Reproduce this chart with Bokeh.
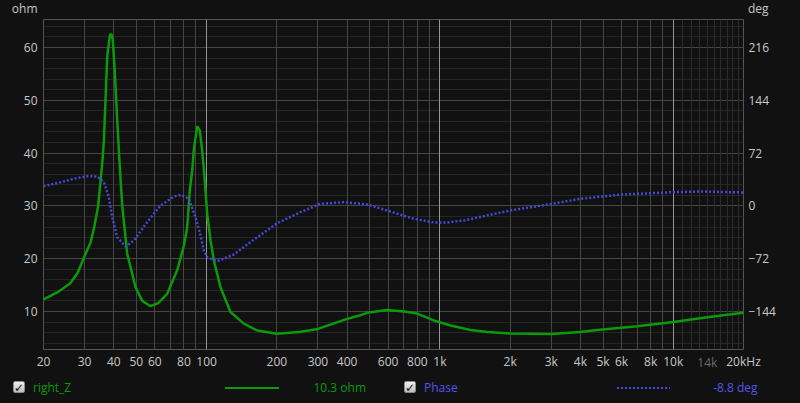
from bokeh.plotting import figure
from bokeh.layouts import column
from bokeh.models import Range1d, LinearAxis, LogAxis, FixedTicker, Grid, Div
from bokeh.embed import file_html
from bokeh.resources import INLINE

# ---------------- data ----------------
freq_z = [20, 22.9, 26, 28, 30, 31.8, 33, 34.3, 35.7, 36.3, 37.5, 38.5, 39.0, 39.6,
          40.4, 41.4, 42.3, 43.5, 45.7, 49.6, 53, 57.5, 62, 67.8, 74.8, 80, 82.6,
          84.7, 86.8, 88.1, 91.2, 93.5, 95.7, 98, 100.6, 104, 107.4, 114.7, 126.6,
          144.4, 164.8, 200, 250, 300, 400, 440, 457, 488, 594, 700, 799, 942,
          1110, 1352, 1600, 2000, 3000, 4000, 4722, 7010, 10000, 14000, 20000]
imp_ohm = [12.3, 13.6, 15.3, 17.3, 20.5, 23.0, 26.0, 30.0, 38.0, 42.4, 58.2, 62.3,
           62.6, 61.6, 55.6, 46.2, 38.6, 30.0, 20.9, 14.6, 12.0, 11.0, 11.6, 13.35,
           17.8, 22.5, 26.0, 32.9, 36.7, 40.5, 45.1, 44.3, 40.5, 35.4, 28.5, 23.4,
           19.7, 14.6, 9.9, 7.7, 6.4, 5.8, 6.1, 6.7, 8.6, 9.1, 9.3, 9.75, 10.3, 10.0,
           9.6, 8.3, 7.35, 6.5, 6.1, 5.85, 5.75, 6.1, 6.5, 7.2, 8.0, 8.9, 9.75]

freq_p = [20, 23.7, 27, 30.8, 34, 36.3, 38.1, 39.4, 41.4, 44.9, 48.8, 55.6, 63.5,
          72.4, 77.8, 83.9, 89.6, 94.2, 97.3, 100.6, 111, 130.8, 154, 200.7, 252,
          307, 387, 488, 594, 773, 942, 1075, 1266, 2000, 3027, 4004, 6043, 10000,
          13100, 20000]
phase_deg = [26.9, 32.3, 37.0, 40.5, 40.1, 32.3, 11.9, -15.4, -42.7, -55.4, -47.2,
             -22.2, 0.5, 12.8, 15.1, 9.7, -15.4, -40.4, -60.8, -70.0, -75.4, -66.3,
             -49.5, -23.6, -8.6, 2.8, 5.1, 1.9, -6.3, -17.6, -22.6, -22.6, -19.9,
             -6.3, 2.8, 9.7, 15.5, 18.7, 19.6, 18.3]

x_tick_vals = [20, 30, 40, 50, 60, 80, 100, 200, 300, 400, 600, 800, 1000, 2000,
               3000, 4000, 5000, 6000, 8000, 10000, 20000]
x_tick_labels = ["20", "30", "40", "50", "60", "80", "100", "200", "300", "400",
                 "600", "800", "1k", "2k", "3k", "4k", "5k", "6k", "8k", "10k", "20kHz"]
x_dim_tick_vals = [14000]
x_dim_tick_labels = ["14k"]
ohm_ticks = [10, 20, 30, 40, 50, 60]
deg_ticks = [-144, -72, 0, 72, 144, 216]

unit_left = "ohm"
unit_right = "deg"
legend_z_name = "right_Z"
legend_z_value = "10.3 ohm"
legend_p_name = "Phase"
legend_p_value = "-8.8 deg"

# ---------------- styling ----------------
BG = "#111111"
GREEN = "#0a9a0a"
BLUE = "#4848dc"
BLUE_TXT = "#5454ee"
TXT = "#c8c8c8"
FONT = "Open Sans"
FS = "12px"
W = 800

# ---------- top strip with unit labels ----------
top_html = (
    f'<div style="position:relative;width:{W}px;height:18px;overflow:hidden;'
    f'font-family:\'{FONT}\';font-size:{FS};color:{TXT};">'
    f'<span style="position:absolute;right:{W - 37.5}px;top:0;line-height:18px;">{unit_left}</span>'
    f'<span style="position:absolute;left:748px;top:0;line-height:18px;">{unit_right}</span>'
    '</div>')
top = Div(text=top_html, width=W, height=18, styles={"background-color": BG, "margin": "0", "padding": "0"})

# ---------- main chart ----------
Y0, Y1 = 2.80, 65.30
p = figure(frame_width=700, frame_height=330, x_axis_type="log",
           x_range=Range1d(20, 20000), y_range=Range1d(Y0, Y1),
           output_backend="svg", toolbar_location=None,
           min_border_left=43, min_border_right=57, min_border_top=1,
           min_border_bottom=30, background_fill_color=BG, border_fill_color=BG,
           outline_line_color="#555555")
p.extra_y_ranges = {"deg": Range1d((Y0 - 30) * 7.2, (Y1 - 30) * 7.2)}
p.grid.visible = False

p.add_layout(Grid(dimension=1, ticker=FixedTicker(ticks=[v for v in range(4, 66, 2) if v % 10]),
                  grid_line_color="#262626"))
p.add_layout(Grid(dimension=1, ticker=FixedTicker(ticks=ohm_ticks), grid_line_color="#464646"))
p.add_layout(Grid(dimension=0, ticker=FixedTicker(ticks=[k * 1000 for k in range(11, 20)]),
                  grid_line_color="#2c2c2c"))
reg = [m * d for d in (10, 100, 1000) for m in range(2, 10) if m * d > 20]
p.add_layout(Grid(dimension=0, ticker=FixedTicker(ticks=reg), grid_line_color="#464646"))
p.add_layout(Grid(dimension=0, ticker=FixedTicker(ticks=[100, 1000, 10000]),
                  grid_line_color="#959595"))

p.line(freq_z, imp_ohm, line_color=GREEN, line_width=2.5)
p.line(freq_p, phase_deg, y_range_name="deg", line_color=BLUE, line_width=2.5,
       line_dash="2 2")

xa = p.xaxis[0]
xa.ticker = FixedTicker(ticks=x_tick_vals)
xa.major_label_overrides = dict(zip(x_tick_vals, x_tick_labels))
xa.major_label_standoff = 3
ya = p.yaxis[0]
ya.ticker = FixedTicker(ticks=ohm_ticks)
ya.major_label_standoff = 6
ra = LinearAxis(y_range_name="deg", ticker=FixedTicker(ticks=deg_ticks))
ra.major_label_standoff = 5
p.add_layout(ra, "right")
# dimmed tick label, pulled back onto the same row as the main x labels
xa2 = LogAxis(ticker=FixedTicker(ticks=x_dim_tick_vals))
xa2.major_label_overrides = dict(zip(x_dim_tick_vals, x_dim_tick_labels))
xa2.major_label_standoff = -19
p.add_layout(xa2, "below")
for ax in (xa, ya, ra, xa2):
    ax.axis_line_color = None
    ax.major_tick_line_color = None
    ax.minor_tick_line_color = None
    ax.major_tick_out = 0
    ax.major_tick_in = 0
    ax.minor_tick_out = 0
    ax.minor_tick_in = 0
    ax.major_label_text_color = TXT
    ax.major_label_text_font = FONT
    ax.major_label_text_font_size = FS
xa2.major_label_text_color = "#6a6a6a"

# ---------- legend strip ----------
def box(left):
    return (f'<span style="position:absolute;left:{left}px;top:2px;width:12px;height:12px;'
            'background:linear-gradient(#f0f0f0,#bdbdbd);border:1px solid #8a8a8a;'
            'border-radius:2px;color:#111;font-family:\'DejaVu Sans\';font-weight:bold;'
            'font-size:12px;line-height:12px;text-align:center;">\u2713</span>')


def txt(content, color, left=None, right=None):
    pos = f"left:{left}px;" if left is not None else f"right:{W - right}px;"
    return (f'<span style="position:absolute;{pos}top:0;line-height:18px;'
            f'color:{color};">{content}</span>')


leg_html = (
    f'<div style="position:relative;width:{W}px;height:24px;overflow:hidden;'
    f'font-family:\'{FONT}\';font-size:{FS};">'
    + box(13)
    + txt(legend_z_name, GREEN, left=33)
    + f'<span style="position:absolute;left:225px;top:8px;width:54px;height:2px;background:{GREEN};"></span>'
    + txt(legend_z_value, GREEN, right=366)
    + box(404)
    + txt(legend_p_name, BLUE_TXT, left=424)
    + f'<span style="position:absolute;left:617px;top:8px;width:53px;height:2px;'
      f'background:repeating-linear-gradient(90deg,{BLUE} 0 2px,transparent 2px 4px);"></span>'
    + txt(legend_p_value, BLUE_TXT, right=757.5)
    + '</div>')
leg = Div(text=leg_html, width=W, height=24, styles={"background-color": BG, "margin": "0", "padding": "0"})

layout = column(top, p, leg, spacing=0, styles={"background-color": BG})

html = file_html(layout, INLINE)
html = html.replace("</head>", "<style>body{background-color:#111111;}</style></head>", 1)
open("out.html", "w").write(html)
